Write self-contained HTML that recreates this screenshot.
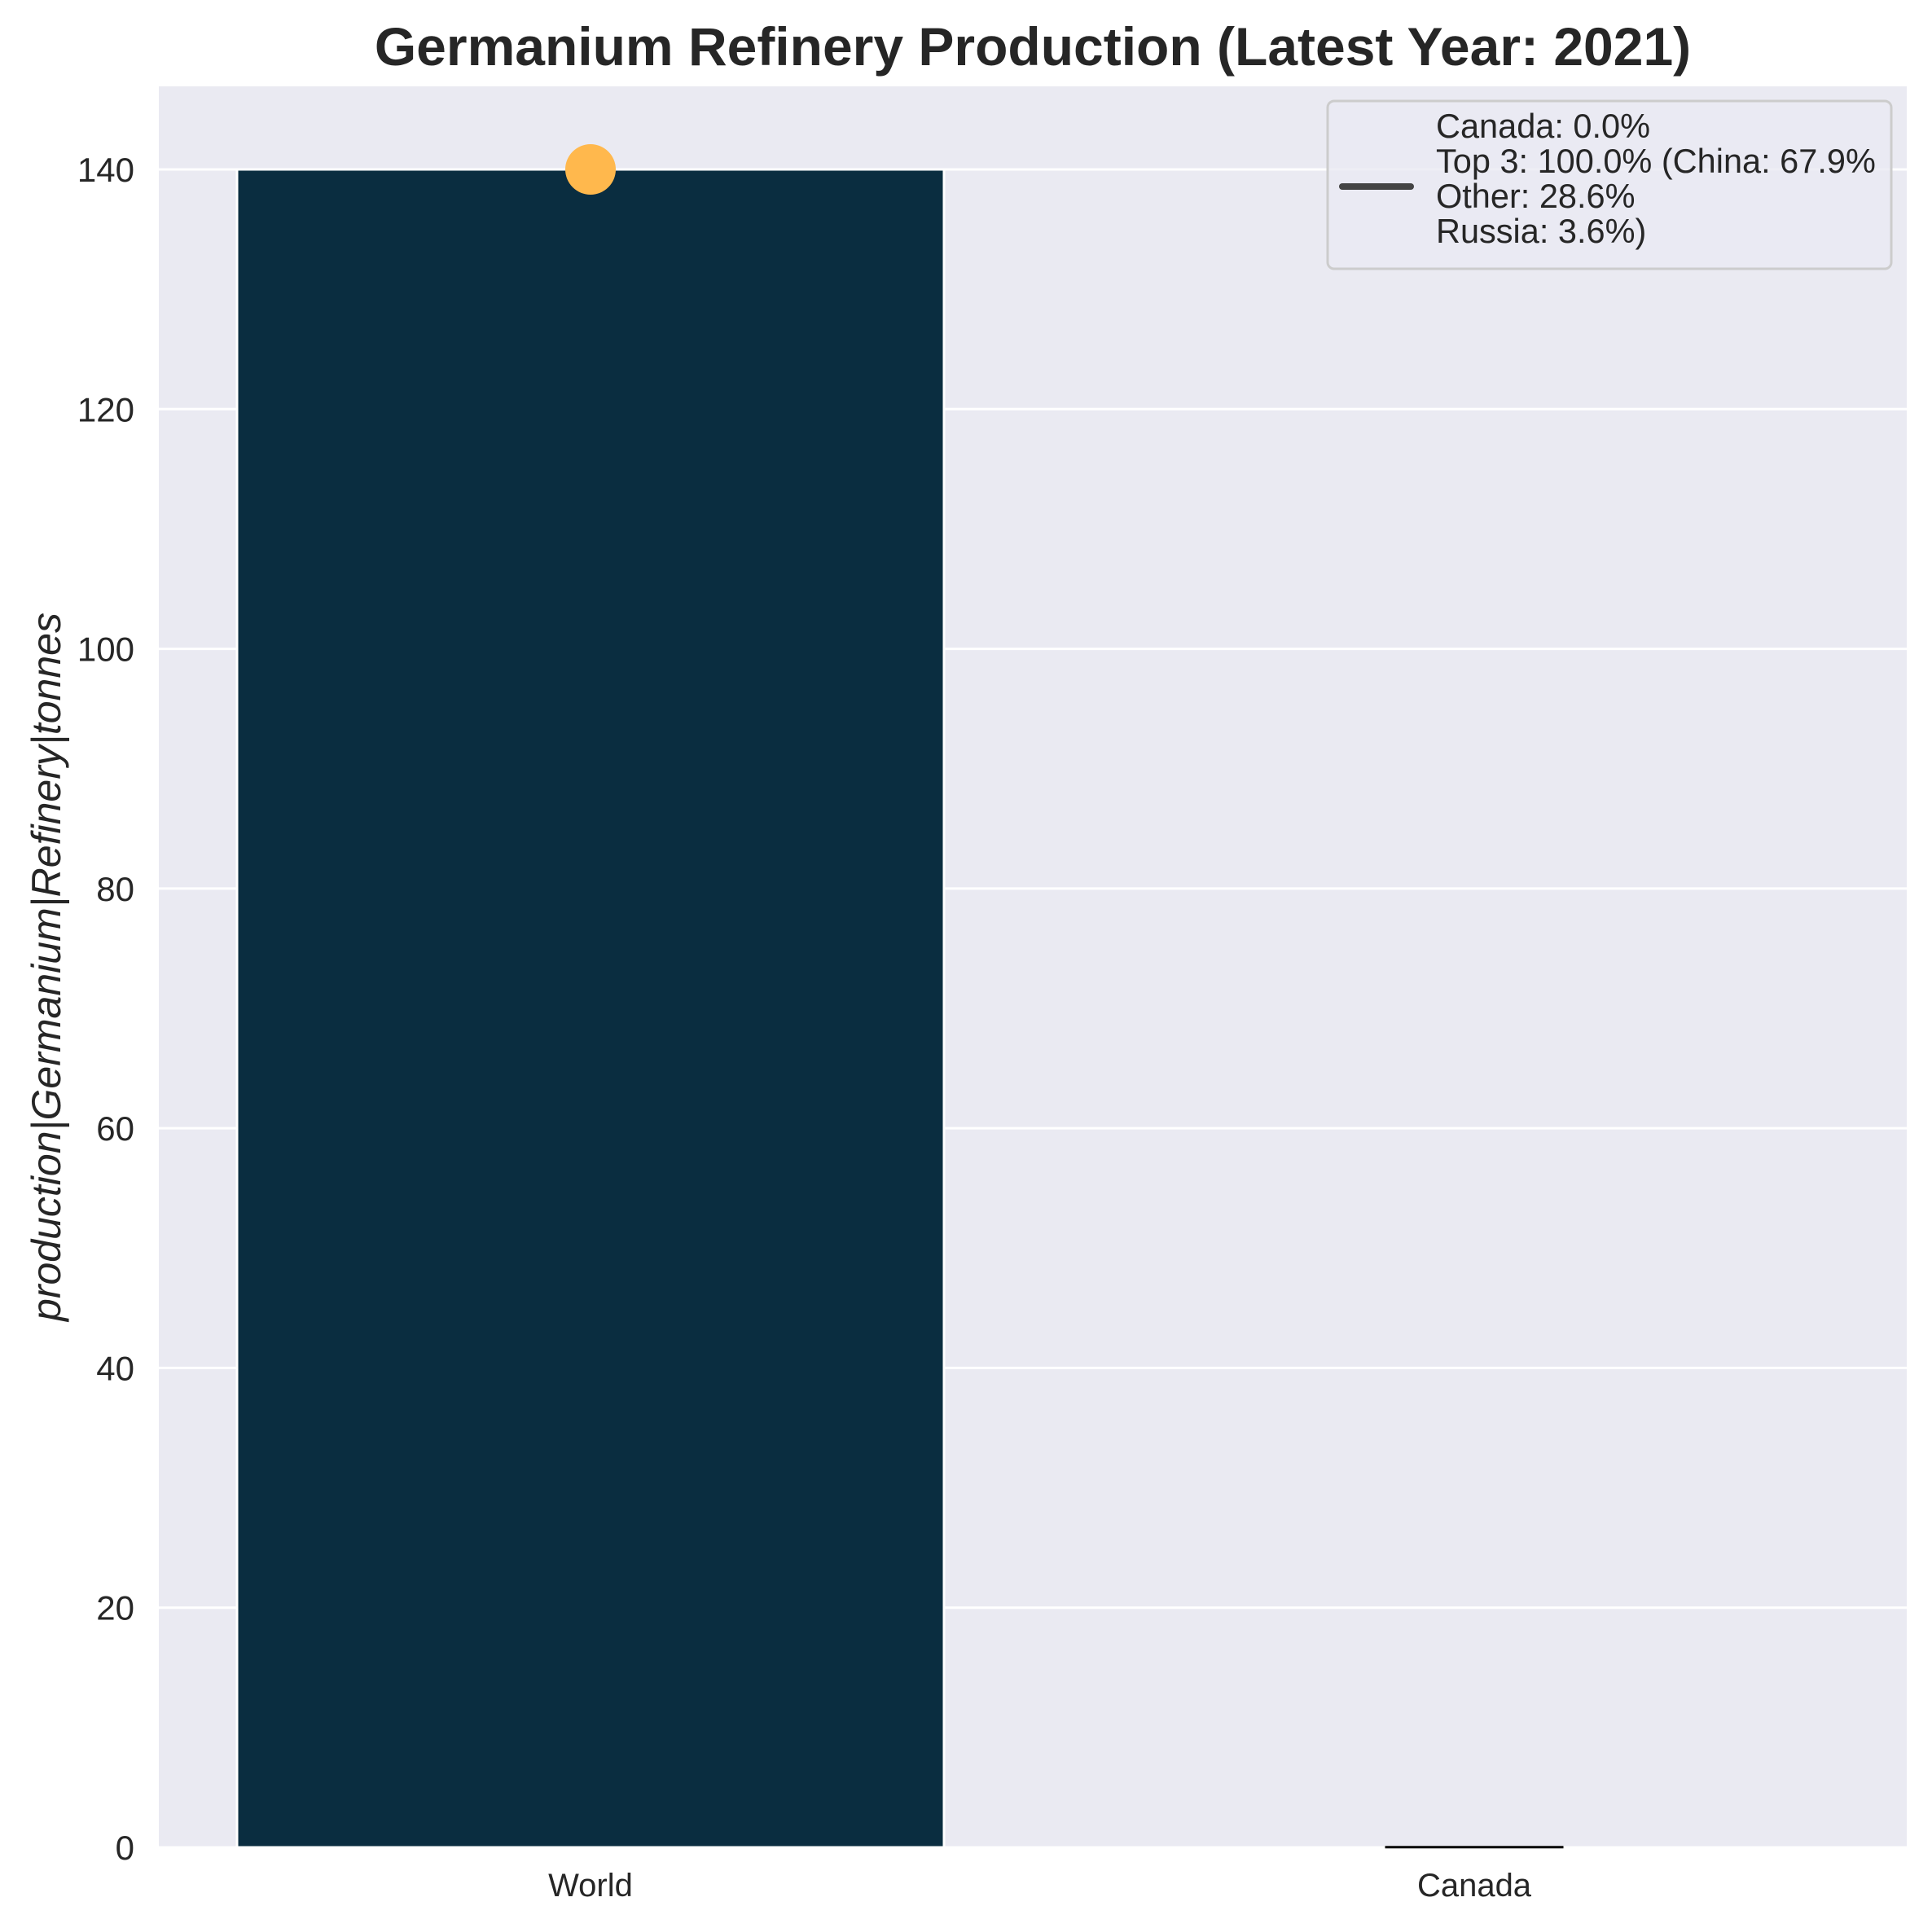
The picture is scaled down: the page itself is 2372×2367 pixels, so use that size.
<!DOCTYPE html>
<html><head><meta charset="utf-8"><style>
html,body{margin:0;padding:0;background:#fff;}
svg{display:block;font-family:"Liberation Sans",sans-serif;}
</style></head><body>
<svg id="chart" width="2372" height="2367" viewBox="0 0 2372 2367">
<text x="1268" y="80" text-anchor="middle" font-size="66" font-weight="bold" fill="#262626">Germanium Refinery Production (Latest Year: 2021)</text>
<rect x="195" y="106" width="2146" height="2162" fill="#EAEAF2"/>
<g id="grid"></g>
<g id="yticks"></g>
<g id="bars"></g>
<g id="xticks"></g>
<text transform="translate(74,1187) rotate(-90)" text-anchor="middle" font-size="50" font-style="italic" fill="#262626">production|Germanium|Refinery|tonnes</text>
<g>
<rect x="1630" y="124" width="692" height="206" rx="8" fill="#EAEAF2" fill-opacity="0.8" stroke="#CCCCCC" stroke-width="3"/>
<line x1="1648" y1="229" x2="1732" y2="229" stroke="#444" stroke-width="8" stroke-linecap="round"/>
<text font-size="41.5" fill="#262626">
<tspan x="1763" y="169">Canada: 0.0%</tspan>
<tspan x="1763" y="212">Top 3: 100.0% (China: 67.9%</tspan>
<tspan x="1763" y="255">Other: 28.6%</tspan>
<tspan x="1763" y="298">Russia: 3.6%)</tspan>
</text>
</g>
</svg>
<script>
const categories = ["World", "Canada"];
const values = [140, 0.05];
const markerValues = [140];
const yTicks = [0, 20, 40, 60, 80, 100, 120, 140];
const barWidths = [0.8, 0.2];

const NS = "http://www.w3.org/2000/svg";
const y0 = 2268, yPer = (2268 - 208) / 140;
function yScale(v){ return y0 - v * yPer; }
function xScale(i){ return 725 + 1085 * i; }
const band = 1085;
function mk(tag, attrs, parent){ const e=document.createElementNS(NS,tag); for(const k in attrs) e.setAttribute(k,attrs[k]); parent.appendChild(e); return e; }

const grid=document.getElementById('grid'), yt=document.getElementById('yticks');
yTicks.forEach(t=>{
  const l=mk('line',{x1:195,x2:2341,y1:yScale(t),y2:yScale(t),stroke:'#fff','stroke-width':3},grid);
  
  
  const tx=mk('text',{x:165,y:yScale(t)+15,'text-anchor':'end','font-size':42,fill:'#262626'},yt);
  tx.textContent=t;
  
  
});
const bars=document.getElementById('bars'), xt=document.getElementById('xticks');
categories.forEach((c,i)=>{
  const w=barWidths[i]*band, cx=xScale(i), top=yScale(values[i]);
  const r=mk('rect',{x:cx-w/2,y:top,width:w,height:Math.max(y0-top,1),fill:i===0?'#0A2D40':'#000',stroke:i===0?'#fff':'#000','stroke-width':i===0?3:2},bars);
  
  
  const tx=mk('text',{x:cx,y:2328,'text-anchor':'middle','font-size':40,fill:'#262626'},xt);
  tx.textContent=c;
  
  
});
markerValues.forEach((v,i)=>{
  const d=mk('circle',{cx:xScale(i),cy:yScale(v),r:31,fill:'#FFB84D'},bars);
  
  
});
</script>
</body></html>
